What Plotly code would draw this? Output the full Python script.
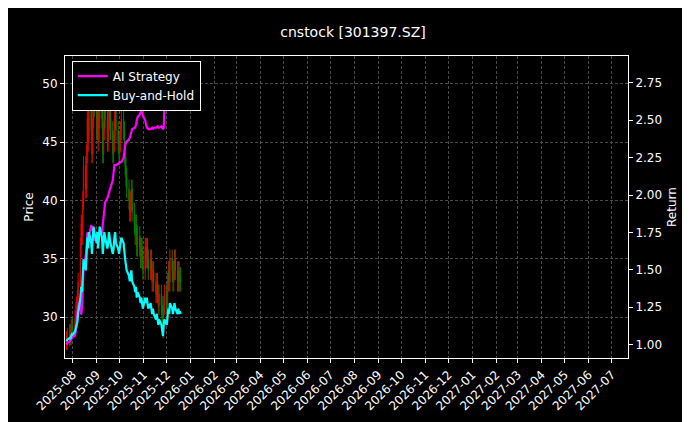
import pandas as pd
import plotly.graph_objects as go

dates = pd.bdate_range("2025-07-24", "2025-12-19")
close = [28,28.3,28.6,28.4,29,29.3,29.2,29.8,30.5,31,31.5,33,
         36,38,37,40,43,41,44,47,45,48,46,44,47,49,48,
         46,48,45,47,49,47,44,46,48,47,45,46,48,47,46,44,45,47,48,46,45,44,
         45,46,47,46,44,43,42,41,40,39,40,41,39,38,37,38,36,37,36,35,36,35,34,
         36,35,36,35,34,35,34,33,34,33,32,33,32,31,32,31,30,29,31,32,
         31,33,34,33,35,34,33,34,35,34,33,34,33,33.5,33]
ai_ret = [1.0,1.01,1.02,1.03,1.03,1.05,1.05,1.06,1.1,1.12,1.2,1.25,
          1.3,1.2,1.25,1.35,1.5,1.6,1.65,1.75,1.7,1.72,1.8,1.78,1.76,1.72,1.7,
          1.7,1.72,1.7,1.72,1.75,1.75,1.8,1.85,1.9,1.95,1.98,2.0,2.0,2.02,2.05,2.1,2.15,2.2,2.2,2.2,2.21,2.21,
          2.22,2.22,2.22,2.25,2.3,2.33,2.35,2.36,2.37,2.38,2.4,2.42,2.44,2.45,2.45,2.47,2.5,2.52,2.54,2.55,2.56,2.55,2.53,
          2.5,2.47,2.45,2.45,2.44,2.44,2.45,2.45,2.44,2.45,2.45,2.46,2.46,2.45,2.45,2.46,2.45,2.44,2.45,2.6,
          2.8,2.85,2.85,2.85,2.85,2.85,2.85,2.85,2.85,2.85,2.85,2.85,2.85,2.85,2.85]
base_price = 27.4

opens = [close[0]] + close[:-1]
highs = [max(o, c) + 0.8 for o, c in zip(opens, close)]
lows = [min(o, c) - 0.8 for o, c in zip(opens, close)]
bh_ret = [c / base_price for c in close]

fig = go.Figure()
fig.add_trace(go.Candlestick(x=dates, open=opens, high=highs, low=lows, close=close,
    increasing=dict(line=dict(color="#e00000", width=1), fillcolor="#e00000"),
    decreasing=dict(line=dict(color="#008000", width=1), fillcolor="#008000"),
    showlegend=False, whiskerwidth=0))
fig.add_trace(go.Scatter(x=dates, y=ai_ret, name="AI Strategy", yaxis="y2",
    line=dict(color="#ff00ff", width=2.2)))
fig.add_trace(go.Scatter(x=dates, y=bh_ret, name="Buy-and-Hold", yaxis="y2",
    line=dict(color="#00ffff", width=2.2)))

grid = dict(showgrid=True, gridcolor="#4a4a4a", griddash="3px,2px", gridwidth=0.5)
fig.update_layout(
    width=690, height=422, paper_bgcolor="black", plot_bgcolor="black",
    font=dict(family="DejaVu Sans", color="white", size=12),
    title=dict(text="cnstock [301397.SZ]", x=0.5, y=0.955, xanchor="center", font=dict(size=14)),
    margin=dict(l=57, r=70, t=48, b=72),
    xaxis=dict(range=["2025-07-22", "2027-07-22"], dtick="M1", tickformat="%Y-%m",
               tickangle=-45, rangeslider=dict(visible=False), showline=True, linecolor="white",
               mirror=True, ticks="outside", tickcolor="white", ticklen=4, **grid),
    yaxis=dict(title=dict(text="Price", font=dict(size=12), standoff=6), range=[26.5, 52.4], dtick=5,
               showline=True, linecolor="white", ticks="outside", tickcolor="white", ticklen=4, **grid),
    yaxis2=dict(title=dict(text="Return", font=dict(size=12), standoff=6), overlaying="y", side="right",
                range=[0.91, 2.93], dtick=0.25, tickformat=".2f", showgrid=False, showline=True,
                linecolor="white", ticks="outside", tickcolor="white", ticklen=4, zeroline=False),
    legend=dict(x=0.012, y=0.985, xanchor="left", yanchor="top", bgcolor="black",
                bordercolor="white", borderwidth=1, font=dict(size=12)),
)
fig.write_html("out.html")
